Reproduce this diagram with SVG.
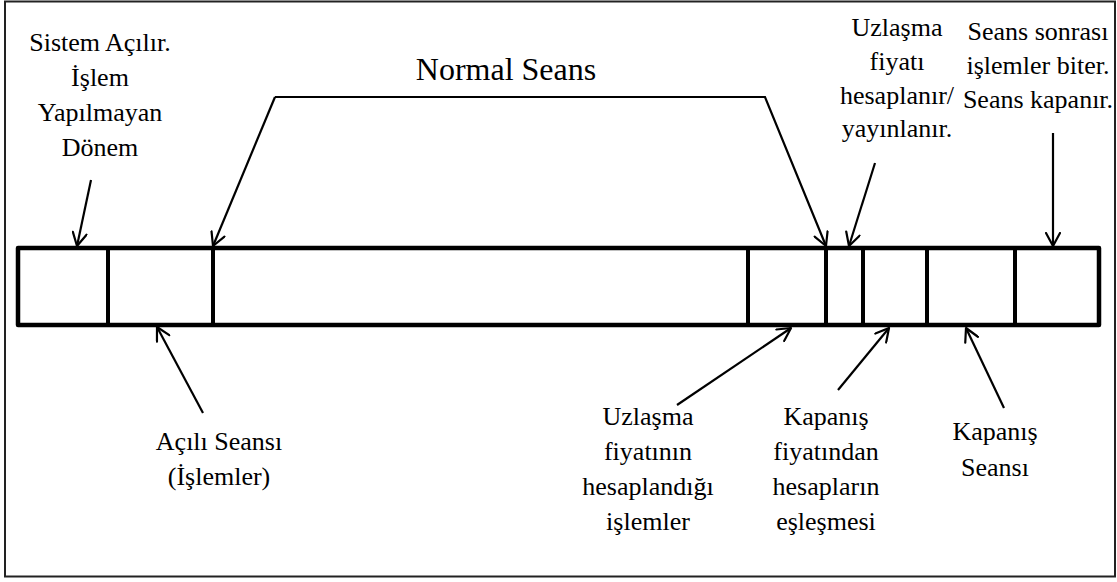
<svg xmlns="http://www.w3.org/2000/svg" width="1117" height="582" viewBox="0 0 1117 582">
  <style>
    .lbl { font-family: 'Liberation Serif', 'DejaVu Serif', serif; font-size: 26px; fill: #000; text-anchor: middle; }
    .title { font-size: 32px; }
    .bar { fill: #fff; stroke: #000; stroke-width: 4.5; stroke-linejoin: round; }
    .div { stroke: #000; stroke-width: 4; }
    .conn { fill: none; stroke: #000; stroke-width: 2.2; marker-end: url(#arrow); }
  </style>
  <defs>
    <!-- open V arrowhead shared by all connectors -->
    <marker id="arrow" viewBox="0 0 16 16" refX="14.5" refY="8" markerWidth="16" markerHeight="16" markerUnits="userSpaceOnUse" orient="auto">
      <path d="M1.5,1 L14.5,8 L1.5,15" fill="none" stroke="#000" stroke-width="2.2" stroke-linecap="round" stroke-linejoin="round"/>
    </marker>
  </defs>

  <rect width="1117" height="582" fill="#fff"/>

  <!-- outer frame -->
  <g id="frame">
    <rect x="5" y="1.5" width="1110" height="575" fill="none" stroke="#222" stroke-width="2"/>
  </g>

  <!-- session timeline bar with its phase dividers -->
  <g id="timeline">
    <rect class="bar" x="18" y="248" width="1081" height="77"/>
    <line class="div" x1="108" y1="248" x2="108" y2="325"/>
    <line class="div" x1="213" y1="248" x2="213" y2="325"/>
    <line class="div" x1="748" y1="248" x2="748" y2="325"/>
    <line class="div" x1="826" y1="248" x2="826" y2="325"/>
    <line class="div" x1="863" y1="248" x2="863" y2="325"/>
    <line class="div" x1="927" y1="248" x2="927" y2="325"/>
    <line class="div" x1="1015" y1="248" x2="1015" y2="325"/>
  </g>

  <g font-family="Liberation Serif, DejaVu Serif, serif">
    <!-- labels above the bar -->
    <g id="label-sistem">
      <text class="lbl" x="100" y="51">Sistem Açılır.</text>
      <text class="lbl" x="100" y="86">İşlem</text>
      <text class="lbl" x="100" y="121">Yapılmayan</text>
      <text class="lbl" x="100" y="156">Dönem</text>
    </g>
    <g id="label-normal">
      <text class="lbl title" x="506" y="80">Normal Seans</text>
    </g>
    <g id="label-uzlasma-fiyati">
      <text class="lbl" x="897" y="36">Uzlaşma</text>
      <text class="lbl" x="897" y="70">fiyatı</text>
      <text class="lbl" x="897" y="104">hesaplanır/</text>
      <text class="lbl" x="897" y="137">yayınlanır.</text>
    </g>
    <g id="label-seans-sonrasi">
      <text class="lbl" x="1038" y="40">Seans sonrası</text>
      <text class="lbl" x="1038" y="74">işlemler biter.</text>
      <text class="lbl" x="1038" y="108">Seans kapanır.</text>
    </g>

    <!-- labels below the bar -->
    <g id="label-acilis">
      <text class="lbl" x="219" y="450">Açılı Seansı</text>
      <text class="lbl" x="219" y="485">(İşlemler)</text>
    </g>
    <g id="label-uzlasma-islemler">
      <text class="lbl" x="648" y="425">Uzlaşma</text>
      <text class="lbl" x="648" y="460">fiyatının</text>
      <text class="lbl" x="648" y="495">hesaplandığı</text>
      <text class="lbl" x="648" y="530">işlemler</text>
    </g>
    <g id="label-kapanis-fiyat">
      <text class="lbl" x="826" y="425">Kapanış</text>
      <text class="lbl" x="826" y="460">fiyatından</text>
      <text class="lbl" x="826" y="495">hesapların</text>
      <text class="lbl" x="826" y="530">eşleşmesi</text>
    </g>
    <g id="label-kapanis-seansi">
      <text class="lbl" x="995" y="440">Kapanış</text>
      <text class="lbl" x="995" y="476">Seansı</text>
    </g>
  </g>

  <!-- connectors -->
  <g id="connectors">
    <line class="conn" x1="91" y1="180" x2="77" y2="246"/>
    <path class="conn" d="M275,97 L213,246"/>
    <path class="conn" d="M275,97 L765,97 L826,246"/>
    <line class="conn" x1="875" y1="163" x2="849" y2="246"/>
    <line class="conn" x1="1053" y1="133" x2="1053" y2="246"/>
    <line class="conn" x1="203" y1="413" x2="157" y2="327"/>
    <line class="conn" x1="677" y1="405" x2="791" y2="328"/>
    <line class="conn" x1="838" y1="390" x2="889" y2="328"/>
    <line class="conn" x1="1004" y1="408" x2="966" y2="328"/>
  </g>
</svg>
